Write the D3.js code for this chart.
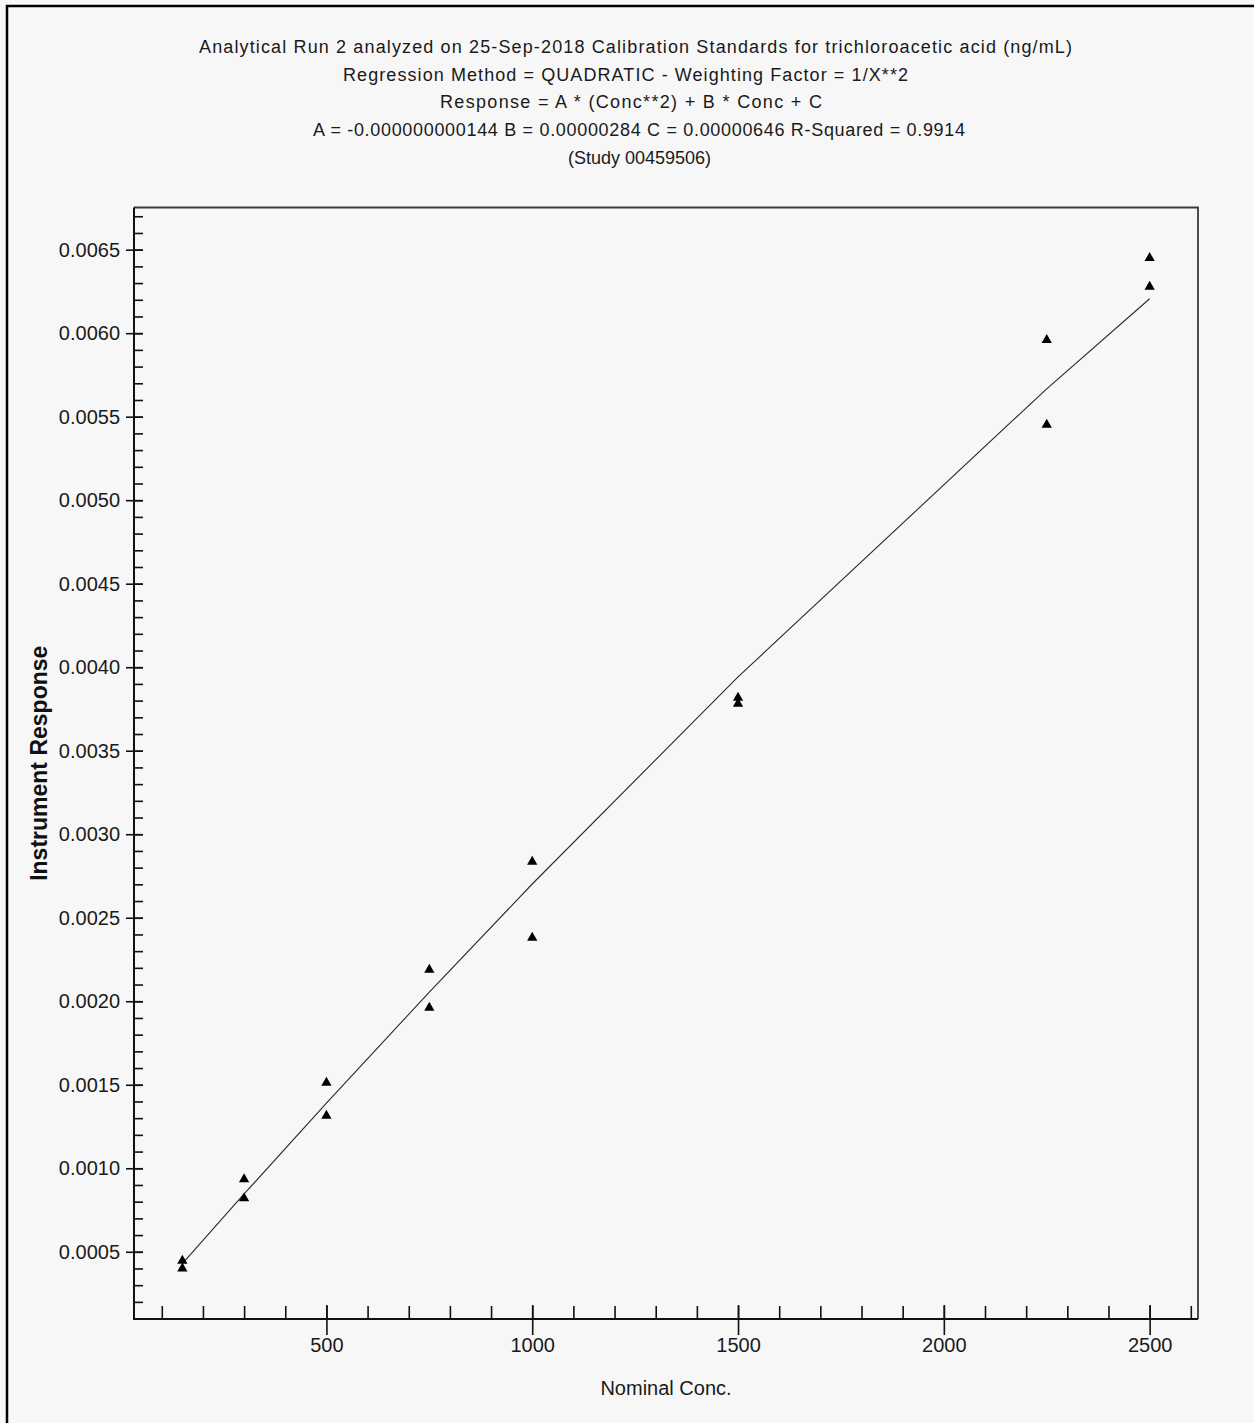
<!DOCTYPE html>
<html>
<head>
<meta charset="utf-8">
<script src="https://cdn.jsdelivr.net/npm/d3@7"></script>
<style>
  html, body { margin: 0; padding: 0; background: #f7f7f7; }
  svg { display: block; font-family: "Liberation Sans", Arial, sans-serif; }
</style>
</head>
<body>
<div id="chart"></div>
<script>
// calibration standards (nominal conc, instrument response), two replicates per level
var concs = [150, 150, 300, 300, 500, 500, 750, 750, 1000, 1000, 1500, 1500, 2250, 2250, 2500, 2500];
var responses = [0.000446, 0.000400, 0.000934, 0.000820, 0.001512, 0.001314, 0.002189, 0.001961,
                 0.002835, 0.002380, 0.003817, 0.003781, 0.005959, 0.005452, 0.006450, 0.006278];
// fitted curve read at each standard level
var fitConcs = [150, 300, 500, 750, 1000, 1500, 2250, 2500];
var fitValues = [0.000429, 0.000846, 0.001390, 0.002055, 0.002702, 0.003942, 0.005667, 0.006206];
var yMajorTicks = [0.0005, 0.0010, 0.0015, 0.0020, 0.0025, 0.0030, 0.0035, 0.0040, 0.0045, 0.0050, 0.0055, 0.0060, 0.0065];
var xMajorTicks = [500, 1000, 1500, 2000, 2500];
var titleLines = [
  "Analytical Run 2 analyzed on 25-Sep-2018 Calibration Standards for trichloroacetic acid (ng/mL)",
  "Regression Method = QUADRATIC - Weighting Factor = 1/X**2",
  "Response = A * (Conc**2) + B * Conc + C",
  "A = -0.000000000144 B = 0.00000284 C = 0.00000646 R-Squared = 0.9914",
  "(Study 00459506)"
];

var titleCenters = [635.5, 625.5, 631, 639, 639.5];
var titleWidths = [873, 565, 382, 652, 143];

var W = 1254, H = 1423;
var plot = {left: 134, right: 1198, top: 207.5, bottom: 1319};

var svg = d3.select("#chart").append("svg")
  .attr("width", W)
  .attr("height", H);

svg.append("rect").attr("width", W).attr("height", H).attr("fill", "#f7f7f7");

// outer frame (only top and left edges visible)
svg.append("path")
  .attr("d", "M7," + H + " V6 H" + W)
  .attr("fill", "none")
  .attr("stroke", "#000")
  .attr("stroke-width", 2.5);

// title block
svg.append("g").selectAll("text")
  .data(titleLines)
  .enter()
  .append("text")
  .attr("x", function(d, i) { return titleCenters[i]; })
  .attr("y", function(d, i) { return 53 + i * 27.7; })
  .attr("text-anchor", "middle")
  .attr("font-size", 18)
  .attr("textLength", function(d, i) { return titleWidths[i]; })
  .attr("lengthAdjust", "spacing")
  .attr("fill", "#1a1a1a")
  .text(function(d) { return d; });

// scales: 5% padding around the data range
var xMin = d3.min(concs), xMax = d3.max(concs);
var yMin = d3.min(responses), yMax = d3.max(responses);
var xPad = (xMax - xMin) * 0.05, yPad = (yMax - yMin) * 0.05;

var x = d3.scaleLinear().domain([xMin - xPad, xMax + xPad]).range([plot.left, plot.right]);
var y = d3.scaleLinear().domain([yMin - yPad, yMax + yPad]).range([plot.bottom, plot.top]);

// minor ticks
var yMinor = d3.range(1, 68).map(function(i) { return i / 10000; })
  .filter(function(v) { return v > y.domain()[0] && v < y.domain()[1]; });
var xMinor = d3.range(1, 27).map(function(i) { return i * 100; });

svg.append("g")
  .attr("transform", "translate(" + plot.left + ",0)")
  .call(d3.axisLeft(y).tickValues(yMinor).tickSize(-9).tickFormat(""))
  .call(function(g) { g.select(".domain").remove(); })
  .selectAll("line").attr("stroke", "#111").attr("stroke-width", 1.6);

svg.append("g")
  .attr("transform", "translate(0," + plot.bottom + ")")
  .call(d3.axisBottom(x).tickValues(xMinor).tickSize(-13).tickFormat(""))
  .call(function(g) { g.select(".domain").remove(); })
  .selectAll("line").attr("stroke", "#111").attr("stroke-width", 1.6);

// major y axis
var yAxis = svg.append("g")
  .attr("transform", "translate(" + plot.left + ",0)")
  .call(d3.axisLeft(y).tickValues(yMajorTicks).tickSize(8).tickPadding(6)
        .tickFormat(d3.format(".4f")));
yAxis.select(".domain").remove();
yAxis.selectAll(".tick line").attr("x1", 9).attr("x2", -8)
  .attr("stroke", "#111").attr("stroke-width", 1.6);
yAxis.selectAll(".tick text")
  .attr("font-size", 20)
  .attr("font-family", "Liberation Sans, Arial, sans-serif")
  .attr("fill", "#1a1a1a");

// major x axis
var xAxis = svg.append("g")
  .attr("transform", "translate(0," + plot.bottom + ")")
  .call(d3.axisBottom(x).tickValues(xMajorTicks).tickSize(16).tickPadding(3)
        .tickFormat(d3.format("d")));
xAxis.select(".domain").remove();
xAxis.selectAll(".tick line").attr("y1", -14).attr("y2", 16)
  .attr("stroke", "#111").attr("stroke-width", 1.6);
xAxis.selectAll(".tick text")
  .attr("font-size", 20)
  .attr("font-family", "Liberation Sans, Arial, sans-serif")
  .attr("fill", "#1a1a1a");

// plot box: top/right in grey, left/bottom axis lines in black
svg.append("path")
  .attr("d", "M" + plot.left + "," + plot.top + " H" + plot.right + " V" + plot.bottom)
  .attr("fill", "none")
  .attr("stroke", "#3a3a3a")
  .attr("stroke-width", 1.8);
svg.append("path")
  .attr("d", "M" + plot.left + "," + plot.top + " V" + plot.bottom + " H" + plot.right)
  .attr("fill", "none")
  .attr("stroke", "#111")
  .attr("stroke-width", 2);

// regression curve
var line = d3.line()
  .x(function(d, i) { return x(fitConcs[i]); })
  .y(function(d) { return y(d); });
svg.append("path")
  .datum(fitValues)
  .attr("d", line)
  .attr("fill", "none")
  .attr("stroke", "#2a2a2a")
  .attr("stroke-width", 1.1);

// standards as triangles
svg.append("g").selectAll("path")
  .data(responses)
  .enter()
  .append("path")
  .attr("transform", function(d, i) { return "translate(" + x(concs[i]) + "," + y(d) + ")"; })
  .attr("d", d3.symbol().type(d3.symbolTriangle).size(46))
  .attr("fill", "#000");

// axis titles
svg.append("text")
  .attr("transform", "translate(47," + ((plot.top + plot.bottom) / 2) + ") rotate(-90)")
  .attr("text-anchor", "middle")
  .attr("font-size", 23)
  .attr("font-weight", "bold")
  .attr("fill", "#111")
  .text("Instrument Response");

svg.append("text")
  .attr("x", (plot.left + plot.right) / 2)
  .attr("y", 1395)
  .attr("text-anchor", "middle")
  .attr("font-size", 20)
  .attr("fill", "#1a1a1a")
  .text("Nominal Conc.");
</script>
</body>
</html>
